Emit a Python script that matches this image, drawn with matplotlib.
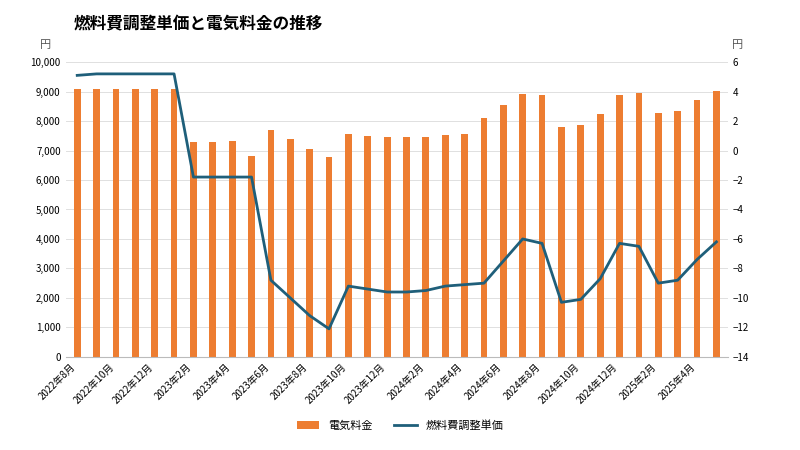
import matplotlib
matplotlib.use("Agg")
import matplotlib.pyplot as plt
import numpy as np

plt.rcParams["font.family"] = "Noto Sans CJK JP"

months = []
for y, m0, m1 in [(2022, 8, 12), (2023, 1, 12), (2024, 1, 12), (2025, 1, 5)]:
    for m in range(m0, m1 + 1):
        months.append(f"{y}年{m}月")

electricity = [9100, 9100, 9100, 9100, 9100, 9100,
               7300, 7280, 7330, 6800,
               7680, 7380, 7050, 6780,
               7560, 7500, 7450, 7460, 7470,
               7540, 7560,
               8120, 8530, 8920, 8870,
               7800, 7850, 8250, 8870, 8950,
               8290, 8330, 8720, 9020]
fuel_adj = [5.1, 5.2, 5.2, 5.2, 5.2, 5.2,
            -1.8, -1.8, -1.8, -1.8,
            -8.8, -10.0, -11.2, -12.1,
            -9.2, -9.4, -9.6, -9.6, -9.5,
            -9.2, -9.1, -9.0,
            -7.5, -6.0, -6.3,
            -10.3, -10.1, -8.7, -6.3, -6.5,
            -9.0, -8.8, -7.4, -6.2]

x = np.arange(len(months))
fig, ax = plt.subplots(figsize=(8, 4.5), dpi=100)
ax.bar(x, electricity, width=0.35, color="#ED7D31", label="電気料金", zorder=2)
ax.set_ylim(0, 10000)
ax.set_yticks(range(0, 10001, 1000))
ax.set_yticklabels([f"{v:,}" for v in range(0, 10001, 1000)], fontsize=7)
ax.grid(axis="y", color="#e0e0e0", lw=0.7, zorder=0)
ax.set_xlim(-0.6, len(months) - 0.4)
ax.set_xticks(x[::2])
ax.set_xticklabels(months[::2], rotation=45, ha="right", fontsize=7)
for s in ["top", "right", "left"]:
    ax.spines[s].set_visible(False)
ax.spines["bottom"].set_color("#bbbbbb")
ax.tick_params(length=0)

ax2 = ax.twinx()
ax2.plot(x, fuel_adj, color="#1F5F7A", lw=2, label="燃料費調整単価")
ax2.set_ylim(-14, 6)
ax2.set_yticks(range(-14, 7, 2))
ax2.tick_params(labelsize=7, length=0)
for s in ax2.spines.values():
    s.set_visible(False)

fig.text(0.092, 0.935, "燃料費調整単価と電気料金の推移", fontsize=12, fontweight="bold")
fig.text(0.05, 0.893, "円", fontsize=8, color="#555555")
fig.text(0.915, 0.893, "円", fontsize=8, color="#555555")

h1, l1 = ax.get_legend_handles_labels()
h2, l2 = ax2.get_legend_handles_labels()
fig.legend(h1 + h2, l1 + l2, loc="lower center", ncol=2, frameon=False,
           fontsize=8, bbox_to_anchor=(0.5, 0.02))
fig.subplots_adjust(left=0.082, right=0.91, top=0.862, bottom=0.207)
fig.savefig("out.png")
